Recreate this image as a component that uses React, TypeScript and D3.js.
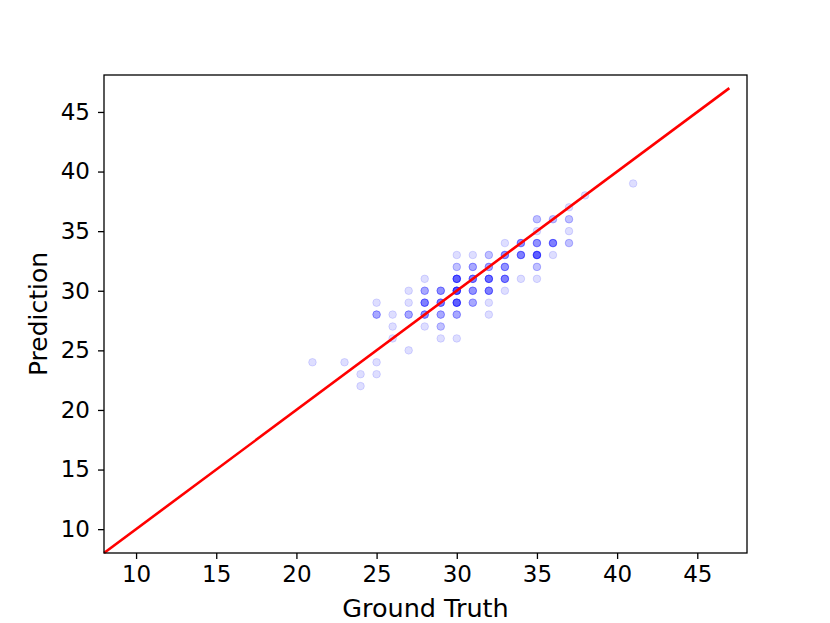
import React, { useEffect, useRef } from 'react';
import * as d3 from 'd3';

// [ground truth, prediction, how many samples fall on that cell]
const samples: [number, number, number][] = [
  [21, 24, 1], [23, 24, 1], [24, 23, 1], [24, 22, 1], [25, 24, 1], [25, 23, 1],
  [25, 29, 1], [25, 28, 3],
  [26, 28, 1], [26, 27, 1], [26, 26, 1],
  [27, 30, 1], [27, 29, 1], [27, 28, 3], [27, 25, 1],
  [28, 31, 1], [28, 30, 3], [28, 29, 5], [28, 28, 4], [28, 27, 1],
  [29, 30, 4], [29, 29, 5], [29, 28, 3], [29, 27, 2], [29, 26, 1],
  [30, 33, 1], [30, 32, 2], [30, 31, 7], [30, 30, 8], [30, 29, 7], [30, 28, 3], [30, 26, 1],
  [31, 33, 1], [31, 32, 3], [31, 31, 5], [31, 30, 4], [31, 29, 3],
  [32, 33, 2], [32, 32, 3], [32, 31, 6], [32, 30, 5], [32, 29, 1], [32, 28, 1],
  [33, 34, 1], [33, 33, 4], [33, 32, 4], [33, 31, 5], [33, 30, 1],
  [34, 34, 4], [34, 33, 5], [34, 31, 1],
  [35, 36, 2], [35, 35, 1], [35, 34, 4], [35, 33, 7], [35, 32, 2], [35, 31, 1],
  [36, 36, 2], [36, 34, 5], [36, 33, 1],
  [37, 37, 1], [37, 36, 2], [37, 35, 1], [37, 34, 2],
  [38, 38, 1], [41, 39, 1],
];

const xTicks = [10, 15, 20, 25, 30, 35, 40, 45];
const yTicks = [10, 15, 20, 25, 30, 35, 40, 45];
const identityLine: [number, number][] = [[8, 8], [47, 47]];

const W = 830;
const H = 623;
const left = 104, top = 75, right = 747, bottom = 553;

export default function App() {
  const svgRef = useRef<SVGSVGElement>(null);

  useEffect(() => {
    const svg = d3.select(svgRef.current);
    svg.selectAll('*').remove();

    const x = d3.scaleLinear().domain([8, 48.1]).range([left, right]);
    const y = d3.scaleLinear().domain([8, 48.1]).range([bottom, top]);

    const font = 'DejaVu Sans, sans-serif';

    // Scatter points, one circle per sample so overlaps darken
    const pts: [number, number][] = [];
    samples.forEach(([gx, py, n]) => {
      for (let i = 0; i < n; i++) pts.push([gx, py]);
    });
    svg.append('g')
      .selectAll('circle')
      .data(pts)
      .enter().append('circle')
      .attr('cx', d => x(d[0]))
      .attr('cy', d => y(d[1]))
      .attr('r', 3.8)
      .attr('fill', 'rgba(0,0,255,0.13)')
      .attr('stroke', 'rgba(0,0,255,0.13)')
      .attr('stroke-width', 1);

    // Identity line
    const line = d3.line<[number, number]>().x(d => x(d[0])).y(d => y(d[1]));
    svg.append('path')
      .datum(identityLine)
      .attr('fill', 'none')
      .attr('stroke', '#ff0000')
      .attr('stroke-width', 2.6)
      .attr('d', line);

    // Frame
    svg.append('rect')
      .attr('x', left).attr('y', top)
      .attr('width', right - left).attr('height', bottom - top)
      .attr('fill', 'none').attr('stroke', '#000').attr('stroke-width', 1.3);

    // X axis
    const xa = svg.append('g')
      .attr('transform', `translate(0,${bottom})`)
      .call(d3.axisBottom(x).tickValues(xTicks).tickSize(6).tickPadding(7).tickFormat(d3.format('d')));
    xa.select('.domain').remove();
    xa.selectAll('line').attr('stroke-width', 1.3);
    xa.selectAll('text').attr('font-family', font).attr('font-size', 23).attr('fill', '#000');

    // Y axis
    const ya = svg.append('g')
      .attr('transform', `translate(${left},0)`)
      .call(d3.axisLeft(y).tickValues(yTicks).tickSize(6).tickPadding(8).tickFormat(d3.format('d')));
    ya.select('.domain').remove();
    ya.selectAll('line').attr('stroke-width', 1.3);
    ya.selectAll('text').attr('font-family', font).attr('font-size', 23).attr('fill', '#000');

    // Axis labels
    svg.append('text')
      .attr('x', (left + right) / 2)
      .attr('y', 617)
      .attr('text-anchor', 'middle')
      .attr('font-family', font)
      .attr('font-size', 25.5)
      .text('Ground Truth');

    svg.append('text')
      .attr('transform', `translate(47,${(top + bottom) / 2}) rotate(-90)`)
      .attr('text-anchor', 'middle')
      .attr('font-family', font)
      .attr('font-size', 25)
      .text('Prediction');
  }, []);

  return (
    <div style={{ position: 'absolute', left: 0, top: 0 }}>
      <svg ref={svgRef} width={W} height={H} style={{ display: 'block', background: '#fff' }} />
    </div>
  );
}
